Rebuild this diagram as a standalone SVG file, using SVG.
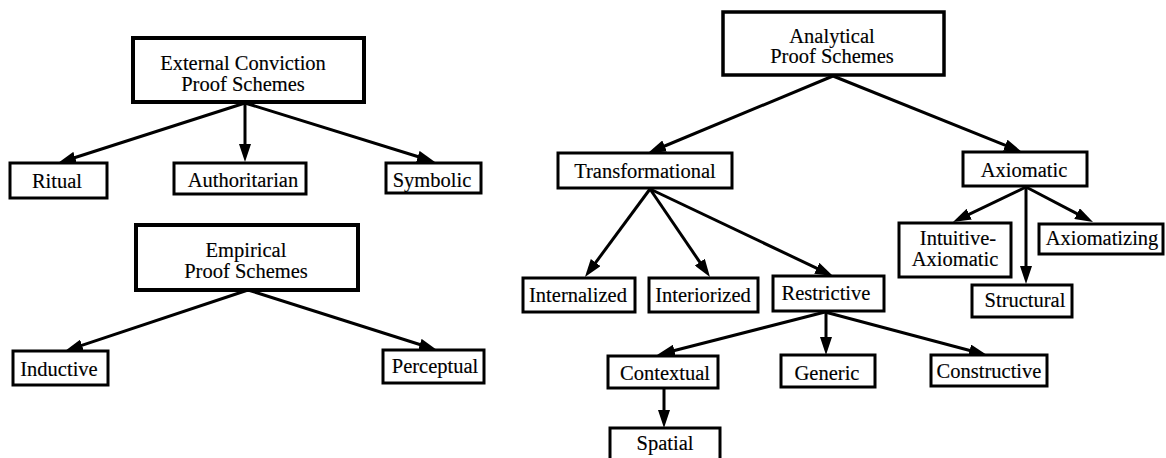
<svg xmlns="http://www.w3.org/2000/svg" width="1166" height="458" viewBox="0 0 1166 458">
  <style>
    .box { fill: #fff; stroke: #000; stroke-width: 3; }
    .head { stroke-width: 4; }
    .lbl { font-size: 20.5px; fill: #000; stroke: #000; stroke-width: 0.15; text-anchor: middle; }
    .edge { stroke: #000; stroke-width: 3; fill: none; marker-end: url(#arrow); }
  </style>
  <defs>
    <marker id="arrow" viewBox="0 0 18 12" refX="9" refY="6" markerWidth="18" markerHeight="12" markerUnits="userSpaceOnUse" orient="auto">
      <path d="M0,0 L18,6 L0,12 z" fill="#000"/>
    </marker>
  </defs>
  <rect width="1166" height="458" fill="#fff"/>

  <g id="connectors">
    <!-- External conviction -->
    <line class="edge" x1="245" y1="103" x2="66.6" y2="160.3"/>
    <line class="edge" x1="245" y1="103" x2="245" y2="153"/>
    <line class="edge" x1="245" y1="103" x2="426.4" y2="159.3"/>
    <!-- Empirical -->
    <line class="edge" x1="248" y1="290" x2="73.5" y2="348.2"/>
    <line class="edge" x1="248" y1="290" x2="428.4" y2="347.3"/>
    <!-- Analytical -->
    <line class="edge" x1="833" y1="76" x2="656.3" y2="149.5"/>
    <line class="edge" x1="833" y1="76" x2="1013.6" y2="148.6"/>
    <!-- Transformational -->
    <line class="edge" x1="650" y1="189" x2="590.3" y2="269.8"/>
    <line class="edge" x1="650" y1="189" x2="704.9" y2="269.6"/>
    <line class="edge" x1="650" y1="189" x2="824.9" y2="272.1"/>
    <!-- Restrictive -->
    <line class="edge" x1="825" y1="312" x2="665.7" y2="352.8"/>
    <line class="edge" x1="826" y1="312" x2="826" y2="346"/>
    <line class="edge" x1="825" y1="312" x2="978.3" y2="352.7"/>
    <!-- Contextual -->
    <line class="edge" x1="664" y1="389" x2="664" y2="419"/>
    <!-- Axiomatic -->
    <line class="edge" x1="1026" y1="187" x2="961.1" y2="218.1"/>
    <line class="edge" x1="1026" y1="187" x2="1085" y2="217.8"/>
    <line class="edge" x1="1026" y1="187" x2="1026" y2="275"/>
  </g>

  <g font-family="Liberation Serif, DejaVu Serif, Noto Serif, serif">
  <g id="external-conviction">
    <rect class="box head" x="133" y="38" width="231" height="64"/>
    <text class="lbl" x="243" y="70">External Conviction</text>
    <text class="lbl" x="243" y="91">Proof Schemes</text>
  </g>
  <g id="ritual">
    <rect class="box" x="10" y="163" width="97" height="35"/>
    <text class="lbl" x="57" y="188">Ritual</text>
  </g>
  <g id="authoritarian">
    <rect class="box" x="174" y="163" width="132" height="31"/>
    <text class="lbl" x="243" y="187">Authoritarian</text>
  </g>
  <g id="symbolic">
    <rect class="box" x="386" y="163" width="95" height="30"/>
    <text class="lbl" x="432" y="187">Symbolic</text>
  </g>

  <g id="empirical">
    <rect class="box head" x="136" y="225" width="222" height="65"/>
    <text class="lbl" x="246" y="257">Empirical</text>
    <text class="lbl" x="246" y="278">Proof Schemes</text>
  </g>
  <g id="inductive">
    <rect class="box" x="13" y="351" width="95" height="34"/>
    <text class="lbl" x="59" y="376">Inductive</text>
  </g>
  <g id="perceptual">
    <rect class="box" x="383" y="350" width="101" height="33"/>
    <text class="lbl" x="435" y="373">Perceptual</text>
  </g>

  <g id="analytical">
    <rect class="box" x="723" y="12" width="221" height="63" style="stroke-width:3.5"/>
    <text class="lbl" x="832" y="43">Analytical</text>
    <text class="lbl" x="832" y="63">Proof Schemes</text>
  </g>
  <g id="transformational">
    <rect class="box" x="558" y="153" width="174" height="35"/>
    <text class="lbl" x="645" y="178">Transformational</text>
  </g>
  <g id="axiomatic">
    <rect class="box" x="963" y="152" width="124" height="34"/>
    <text class="lbl" x="1024" y="177">Axiomatic</text>
  </g>
  <g id="intuitive-axiomatic">
    <rect class="box" x="899" y="223" width="112" height="54"/>
    <text class="lbl" x="958" y="245">Intuitive-</text>
    <text class="lbl" x="955" y="266">Axiomatic</text>
  </g>
  <g id="axiomatizing">
    <rect class="box" x="1039" y="224" width="124" height="30"/>
    <text class="lbl" x="1102" y="245">Axiomatizing</text>
  </g>
  <g id="structural">
    <rect class="box" x="972" y="285" width="100" height="32"/>
    <text class="lbl" x="1025" y="307">Structural</text>
  </g>
  <g id="internalized">
    <rect class="box" x="523" y="278" width="112" height="34"/>
    <text class="lbl" x="578" y="302">Internalized</text>
  </g>
  <g id="interiorized">
    <rect class="box" x="649" y="278" width="109" height="34"/>
    <text class="lbl" x="703" y="302">Interiorized</text>
  </g>
  <g id="restrictive">
    <rect class="box" x="773" y="276" width="111" height="35"/>
    <text class="lbl" x="826" y="300">Restrictive</text>
  </g>
  <g id="contextual">
    <rect class="box" x="608" y="356" width="110" height="32"/>
    <text class="lbl" x="665" y="380">Contextual</text>
  </g>
  <g id="generic">
    <rect class="box" x="781" y="355" width="94" height="32"/>
    <text class="lbl" x="827" y="380">Generic</text>
  </g>
  <g id="constructive">
    <rect class="box" x="931" y="355" width="116" height="31"/>
    <text class="lbl" x="989" y="378">Constructive</text>
  </g>
  <g id="spatial">
    <rect class="box" x="610" y="428" width="110" height="34"/>
    <text class="lbl" x="665" y="450">Spatial</text>
  </g>
  </g>
</svg>
